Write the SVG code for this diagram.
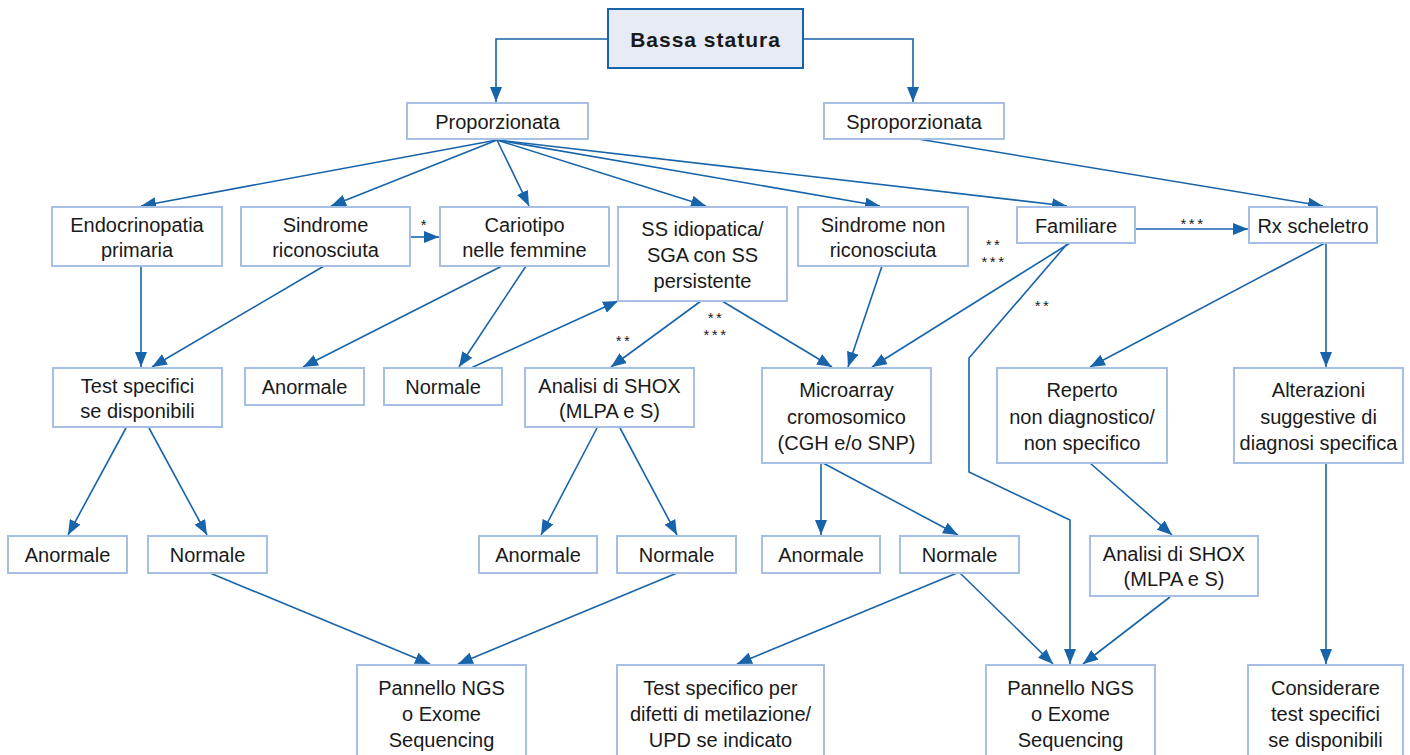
<svg xmlns="http://www.w3.org/2000/svg" width="1410" height="755" viewBox="0 0 1410 755">
<style>
.box{fill:#ffffff;stroke:#a6bfe2;stroke-width:2}
.main{fill:#e7ebf6;stroke:#1764ab;stroke-width:2}
text{font-family:"Liberation Sans",Arial,sans-serif;font-size:20px;fill:#1a1a1a;text-anchor:middle}
.title{font-size:21px;font-weight:bold;letter-spacing:1px}
.star{font-size:15px;letter-spacing:2.5px}
.conn path{fill:none;stroke:#1764ab;stroke-width:1.6}
</style>
<defs>
<marker id="ah" markerUnits="userSpaceOnUse" markerWidth="16" markerHeight="12" refX="15" refY="6" orient="auto">
<path d="M0,0 L15,6 L0,12 z" fill="#1764ab"/>
</marker>
</defs>
<rect width="1410" height="755" fill="#ffffff"/>
<g class="conn" id="connectors">
<path d="M608,39 H496 V102" marker-end="url(#ah)"/>
<path d="M803,39 H913 V102" marker-end="url(#ah)"/>
<path d="M497,140 L141,206" marker-end="url(#ah)"/>
<path d="M497,140 L331,206" marker-end="url(#ah)"/>
<path d="M497,140 L529,206" marker-end="url(#ah)"/>
<path d="M497,140 L706,206" marker-end="url(#ah)"/>
<path d="M497,140 L880,206" marker-end="url(#ah)"/>
<path d="M497,140 L1067,206" marker-end="url(#ah)"/>
<path d="M918,139 L1323,206" marker-end="url(#ah)"/>
<path d="M410,237 L439,237" marker-end="url(#ah)"/>
<path d="M1135,229 L1248,229" marker-end="url(#ah)"/>
<path d="M141,266 V367" marker-end="url(#ah)"/>
<path d="M324,266 L152,367" marker-end="url(#ah)"/>
<path d="M502,266 L303,367" marker-end="url(#ah)"/>
<path d="M526,266 L459,367" marker-end="url(#ah)"/>
<path d="M471,368 L618,301" marker-end="url(#ah)"/>
<path d="M701,301 L611,367" marker-end="url(#ah)"/>
<path d="M722,301 L832,367" marker-end="url(#ah)"/>
<path d="M882,266 L848,367" marker-end="url(#ah)"/>
<path d="M1070,243 L872,367" marker-end="url(#ah)"/>
<path d="M1068,243 L969,358 V472 L1070,520 V664" marker-end="url(#ah)"/>
<path d="M1325,243 L1090,367" marker-end="url(#ah)"/>
<path d="M1326,243 V367" marker-end="url(#ah)"/>
<path d="M126,428 L68,535" marker-end="url(#ah)"/>
<path d="M149,428 L207,535" marker-end="url(#ah)"/>
<path d="M597,428 L541,535" marker-end="url(#ah)"/>
<path d="M620,428 L677,535" marker-end="url(#ah)"/>
<path d="M821,463 V535" marker-end="url(#ah)"/>
<path d="M823,463 L958,535" marker-end="url(#ah)"/>
<path d="M1090,463 L1172,535" marker-end="url(#ah)"/>
<path d="M1326,463 V664" marker-end="url(#ah)"/>
<path d="M210,573 L430,664" marker-end="url(#ah)"/>
<path d="M677,573 L458,664" marker-end="url(#ah)"/>
<path d="M957,573 L737,664" marker-end="url(#ah)"/>
<path d="M960,573 L1053,664" marker-end="url(#ah)"/>
<path d="M1170,597 L1083,664" marker-end="url(#ah)"/>
</g>
<g id="labels">
<text class="star" x="425" y="229.5">*</text>
<text class="star" x="624" y="345.5">**</text>
<text class="star" x="716" y="322.5">**</text>
<text class="star" x="716" y="339.5">***</text>
<text class="star" x="994" y="249.5">**</text>
<text class="star" x="994" y="266.5">***</text>
<text class="star" x="1193" y="228.5">***</text>
<text class="star" x="1043" y="310.5">**</text>
</g>
<g id="n_bassa"><rect class="main" x="608" y="9" width="195" height="59"/><text class="title" x="705.5" y="46.5">Bassa statura</text></g>
<g id="n_prop"><rect class="box" x="407" y="103" width="181" height="36"/><text x="497.5" y="129">Proporzionata</text></g>
<g id="n_sprop"><rect class="box" x="824" y="103" width="180" height="36"/><text x="914" y="129">Sproporzionata</text></g>
<g id="n_endo"><rect class="box" x="52" y="207" width="170" height="59"/><text x="137" y="231.5">Endocrinopatia</text><text x="137" y="257">primaria</text></g>
<g id="n_sindric"><rect class="box" x="241" y="207" width="169" height="59"/><text x="325.5" y="231.5">Sindrome</text><text x="325.5" y="257">riconosciuta</text></g>
<g id="n_cario"><rect class="box" x="440" y="207" width="169" height="59"/><text x="524.5" y="231.5">Cariotipo</text><text x="524.5" y="257">nelle femmine</text></g>
<g id="n_ss"><rect class="box" x="618" y="207" width="169" height="94"/><text x="702.5" y="236">SS idiopatica/</text><text x="702.5" y="262">SGA con SS</text><text x="702.5" y="288">persistente</text></g>
<g id="n_sindnon"><rect class="box" x="798" y="207" width="170" height="59"/><text x="883" y="231.5">Sindrome non</text><text x="883" y="257">riconosciuta</text></g>
<g id="n_fam"><rect class="box" x="1017" y="207" width="118" height="36"/><text x="1076" y="233">Familiare</text></g>
<g id="n_rx"><rect class="box" x="1249" y="207" width="128" height="36"/><text x="1313" y="233">Rx scheletro</text></g>
<g id="n_test"><rect class="box" x="53" y="368" width="169" height="59"/><text x="137.5" y="392.5">Test specifici</text><text x="137.5" y="418">se disponibili</text></g>
<g id="n_anor1"><rect class="box" x="245" y="368" width="119" height="37"/><text x="304.5" y="394">Anormale</text></g>
<g id="n_norm1"><rect class="box" x="384" y="368" width="118" height="37"/><text x="443" y="394">Normale</text></g>
<g id="n_shox1"><rect class="box" x="525" y="368" width="169" height="59"/><text x="609.5" y="392.5">Analisi di SHOX</text><text x="609.5" y="418">(MLPA e S)</text></g>
<g id="n_micro"><rect class="box" x="762" y="368" width="169" height="95"/><text x="846.5" y="397">Microarray</text><text x="846.5" y="423.5">cromosomico</text><text x="846.5" y="450">(CGH e/o SNP)</text></g>
<g id="n_rep"><rect class="box" x="997" y="368" width="170" height="95"/><text x="1082" y="397">Reperto</text><text x="1082" y="423.5">non diagnostico/</text><text x="1082" y="450">non specifico</text></g>
<g id="n_alt"><rect class="box" x="1234" y="368" width="169" height="95"/><text x="1318.5" y="397">Alterazioni</text><text x="1318.5" y="423.5">suggestive di</text><text x="1318.5" y="450">diagnosi specifica</text></g>
<g id="n_anor2"><rect class="box" x="8" y="536" width="119" height="37"/><text x="67.5" y="562">Anormale</text></g>
<g id="n_norm2"><rect class="box" x="148" y="536" width="119" height="37"/><text x="207.5" y="562">Normale</text></g>
<g id="n_anor3"><rect class="box" x="479" y="536" width="118" height="37"/><text x="538" y="562">Anormale</text></g>
<g id="n_norm3"><rect class="box" x="617" y="536" width="119" height="37"/><text x="676.5" y="562">Normale</text></g>
<g id="n_anor4"><rect class="box" x="762" y="536" width="118" height="37"/><text x="821" y="562">Anormale</text></g>
<g id="n_norm4"><rect class="box" x="900" y="536" width="119" height="37"/><text x="959.5" y="562">Normale</text></g>
<g id="n_shox2"><rect class="box" x="1090" y="536" width="168" height="60"/><text x="1174" y="560.5">Analisi di SHOX</text><text x="1174" y="586">(MLPA e S)</text></g>
<g id="n_ngs1"><rect class="box" x="357" y="665" width="169" height="95"/><text x="441.5" y="695">Pannello NGS</text><text x="441.5" y="721">o Exome</text><text x="441.5" y="747">Sequencing</text></g>
<g id="n_spec"><rect class="box" x="617" y="665" width="207" height="95"/><text x="720.5" y="695">Test specifico per</text><text x="720.5" y="721">difetti di metilazione/</text><text x="720.5" y="747">UPD se indicato</text></g>
<g id="n_ngs2"><rect class="box" x="986" y="665" width="169" height="95"/><text x="1070.5" y="695">Pannello NGS</text><text x="1070.5" y="721">o Exome</text><text x="1070.5" y="747">Sequencing</text></g>
<g id="n_cons"><rect class="box" x="1248" y="665" width="155" height="95"/><text x="1325.5" y="695">Considerare</text><text x="1325.5" y="721">test specifici</text><text x="1325.5" y="747">se disponibili</text></g>
</svg>
